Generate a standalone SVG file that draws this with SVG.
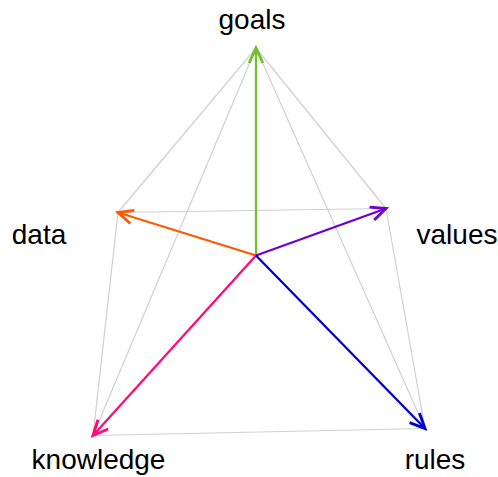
<svg xmlns="http://www.w3.org/2000/svg" width="498" height="477" viewBox="0 0 498 477">
<style>
.edge{stroke:#d0d0d0;stroke-width:1.2;fill:none}
.arr{stroke-width:2.3;fill:none}
.lbl{font-family:"Liberation Sans",Arial,sans-serif;font-size:28px;fill:#000;text-anchor:middle}
</style>
<defs>
<marker id="mg" markerUnits="userSpaceOnUse" orient="auto" markerWidth="20" markerHeight="20" refX="0" refY="0" viewBox="-14 -8 16 16" overflow="visible"><path d="M-12,-5.5 L0,0 L-12,5.5" fill="none" stroke="#73c02a" stroke-width="2.3"/></marker>
<marker id="mo" markerUnits="userSpaceOnUse" orient="auto" markerWidth="20" markerHeight="20" refX="0" refY="0" viewBox="-14 -8 16 16" overflow="visible"><path d="M-12,-5.5 L0,0 L-12,5.5" fill="none" stroke="#ff5a00" stroke-width="2.3"/></marker>
<marker id="mp" markerUnits="userSpaceOnUse" orient="auto" markerWidth="20" markerHeight="20" refX="0" refY="0" viewBox="-14 -8 16 16" overflow="visible"><path d="M-12,-5.5 L0,0 L-12,5.5" fill="none" stroke="#7000d0" stroke-width="2.3"/></marker>
<marker id="mk" markerUnits="userSpaceOnUse" orient="auto" markerWidth="20" markerHeight="20" refX="0" refY="0" viewBox="-14 -8 16 16" overflow="visible"><path d="M-12,-5.5 L0,0 L-12,5.5" fill="none" stroke="#ff0a78" stroke-width="2.3"/></marker>
<marker id="mb" markerUnits="userSpaceOnUse" orient="auto" markerWidth="20" markerHeight="20" refX="0" refY="0" viewBox="-14 -8 16 16" overflow="visible"><path d="M-12,-5.5 L0,0 L-12,5.5" fill="none" stroke="#0000cc" stroke-width="2.3"/></marker>
</defs>
<g id="connectors">
<line class="edge" x1="256" y1="48" x2="118" y2="212.5"/>
<line class="edge" x1="256" y1="48" x2="386" y2="208.5"/>
<line class="edge" x1="256" y1="48" x2="93" y2="435.5"/>
<line class="edge" x1="256" y1="48" x2="425" y2="428.5"/>
<line class="edge" x1="118" y1="212.5" x2="386" y2="208.5"/>
<line class="edge" x1="118" y1="212.5" x2="93" y2="435.5"/>
<line class="edge" x1="386" y1="208.5" x2="425" y2="428.5"/>
<line class="edge" x1="93" y1="435.5" x2="425" y2="428.5"/>
<line class="arr" stroke="#73c02a" x1="256" y1="255.5" x2="256" y2="48" marker-end="url(#mg)"/>
<line class="arr" stroke="#ff5a00" x1="256" y1="255.5" x2="118" y2="212.5" marker-end="url(#mo)"/>
<line class="arr" stroke="#7000d0" x1="256" y1="255.5" x2="386" y2="208.5" marker-end="url(#mp)"/>
<line class="arr" stroke="#ff0a78" x1="256" y1="255.5" x2="93" y2="435.5" marker-end="url(#mk)"/>
<line class="arr" stroke="#0000cc" x1="256" y1="255.5" x2="425" y2="428.5" marker-end="url(#mb)"/>
</g>
<g id="goals"><text class="lbl" x="252" y="29">goals</text></g>
<g id="data"><text class="lbl" x="39" y="244">data</text></g>
<g id="values"><text class="lbl" x="457" y="244">values</text></g>
<g id="knowledge"><text class="lbl" x="98.5" y="469">knowledge</text></g>
<g id="rules"><text class="lbl" x="435" y="469">rules</text></g>
</svg>
